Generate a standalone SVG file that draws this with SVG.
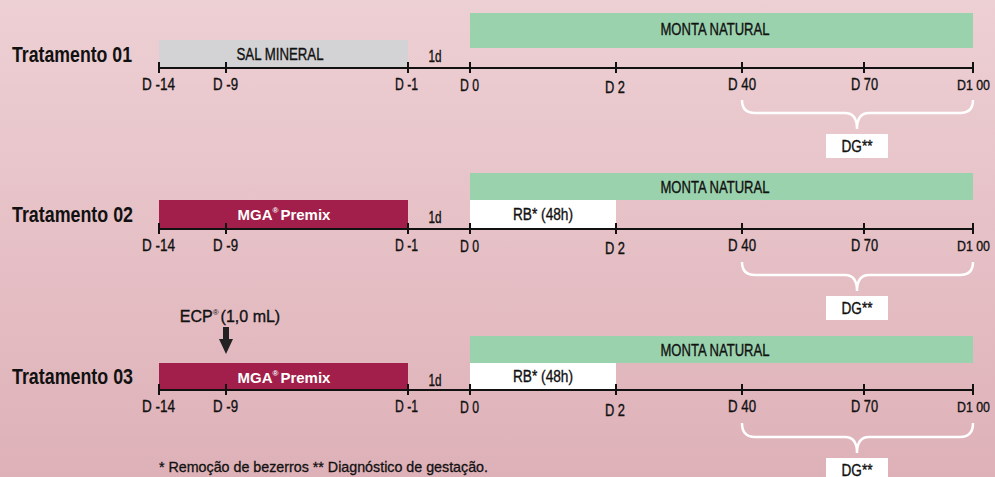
<svg xmlns="http://www.w3.org/2000/svg" width="995" height="477" viewBox="0 0 995 477">
<defs>
<linearGradient id="bg" x1="0" y1="0" x2="0" y2="1">
<stop offset="0" stop-color="#edd0d4"/>
<stop offset="1" stop-color="#deb1b8"/>
</linearGradient>
</defs>
<style>
text{font-family:"Liberation Sans",Arial,sans-serif;fill:#111}
.row{font-size:22px;font-weight:bold}
.tk,.lb{font-size:16px;text-anchor:middle;stroke:#111;stroke-width:0.35}
.end{font-size:14px;text-anchor:end}
.wb{font-size:15px;font-weight:bold;fill:#fff;text-anchor:middle}
.axis{stroke:#111;stroke-width:2;fill:none}
.brace{stroke:#fff;stroke-width:2.5;fill:none}
.green{fill:#9bd2ae}
.gray{fill:#d3d3d5}
.mga{fill:#a11f4a}
.white{fill:#fff}
</style>
<rect width="995" height="477" fill="url(#bg)"/>

<g id="tratamento01">
<text class="row" x="12" y="62" textLength="120" lengthAdjust="spacingAndGlyphs">Tratamento 01</text>
<rect class="green" x="470" y="13" width="503" height="35"/>
<text class="lb" x="715" y="35" textLength="109" lengthAdjust="spacingAndGlyphs">MONTA NATURAL</text>
<rect class="gray" x="159" y="40" width="249" height="27"/>
<text class="lb" x="280" y="60" textLength="87" lengthAdjust="spacingAndGlyphs">SAL MINERAL</text>
<text class="lb" x="435" y="62" textLength="13" lengthAdjust="spacingAndGlyphs">1d</text>
<path class="axis" d="M159,68H973M159,62v11M226,62v11M408,62v11M470,62v11M616,62v11M742,62v11M864,62v11M973,62v11"/>
<text class="tk" x="158.5" y="90" textLength="33" lengthAdjust="spacingAndGlyphs">D -14</text>
<text class="tk" x="225.5" y="90" textLength="25" lengthAdjust="spacingAndGlyphs">D -9</text>
<text class="tk" x="406.5" y="90" textLength="23" lengthAdjust="spacingAndGlyphs">D -1</text>
<text class="tk" x="469.5" y="91" textLength="19" lengthAdjust="spacingAndGlyphs">D 0</text>
<text class="tk" x="615" y="93" textLength="20" lengthAdjust="spacingAndGlyphs">D 2</text>
<text class="tk" x="742" y="90" textLength="28" lengthAdjust="spacingAndGlyphs">D 40</text>
<text class="tk" x="864.5" y="90" textLength="27" lengthAdjust="spacingAndGlyphs">D 70</text>
<text class="tk end" x="990" y="90" textLength="33" lengthAdjust="spacingAndGlyphs">D1 00</text>
<path class="brace" d="M742,100Q742,113 755,113L845,113Q857,113 857,129Q857,113 869,113L960,113Q973,113 973,100"/>
<rect class="white" x="826" y="134" width="62" height="24"/>
<text class="lb" x="857" y="152" textLength="31" lengthAdjust="spacingAndGlyphs">DG**</text>
</g>

<g id="tratamento02">
<text class="row" x="12" y="222" textLength="121" lengthAdjust="spacingAndGlyphs">Tratamento 02</text>
<rect class="green" x="470" y="173" width="503" height="27"/>
<text class="lb" x="715" y="193" textLength="109" lengthAdjust="spacingAndGlyphs">MONTA NATURAL</text>
<rect class="white" x="470" y="200" width="146" height="28"/>
<text class="lb" x="543" y="220" textLength="60" lengthAdjust="spacingAndGlyphs">RB* (48h)</text>
<rect class="mga" x="159" y="200" width="249" height="28"/>
<text class="wb" x="284" y="220"><tspan>MGA</tspan><tspan font-size="8" dy="-7">®</tspan><tspan dy="7" dx="2">Premix</tspan></text>
<text class="lb" x="435" y="223" textLength="13" lengthAdjust="spacingAndGlyphs">1d</text>
<path class="axis" d="M159,229H973M159,223v11M226,223v11M408,223v11M470,223v11M616,223v11M742,223v11M864,223v11M973,223v11"/>
<text class="tk" x="158.5" y="251" textLength="33" lengthAdjust="spacingAndGlyphs">D -14</text>
<text class="tk" x="225.5" y="251" textLength="25" lengthAdjust="spacingAndGlyphs">D -9</text>
<text class="tk" x="406.5" y="251" textLength="23" lengthAdjust="spacingAndGlyphs">D -1</text>
<text class="tk" x="469.5" y="252" textLength="19" lengthAdjust="spacingAndGlyphs">D 0</text>
<text class="tk" x="615" y="254" textLength="20" lengthAdjust="spacingAndGlyphs">D 2</text>
<text class="tk" x="742" y="251" textLength="28" lengthAdjust="spacingAndGlyphs">D 40</text>
<text class="tk" x="864.5" y="251" textLength="27" lengthAdjust="spacingAndGlyphs">D 70</text>
<text class="tk end" x="990" y="251" textLength="33" lengthAdjust="spacingAndGlyphs">D1 00</text>
<path class="brace" d="M742,262Q742,275 755,275L845,275Q857,275 857,291Q857,275 869,275L960,275Q973,275 973,262"/>
<rect class="white" x="826" y="296" width="62" height="24"/>
<text class="lb" x="857" y="314" textLength="31" lengthAdjust="spacingAndGlyphs">DG**</text>
</g>

<g id="ecp">
<text class="lb" x="230" y="322" font-size="15"><tspan>ECP</tspan><tspan font-size="8" dy="-7" stroke-width="0">®</tspan><tspan dy="7" dx="2">(1,0 mL)</tspan></text>
<path d="M223,327H229V339H233L226,354L219,339H223Z" fill="#222"/>
</g>

<g id="tratamento03">
<text class="row" x="12" y="384" textLength="121" lengthAdjust="spacingAndGlyphs">Tratamento 03</text>
<rect class="green" x="470" y="336" width="503" height="27"/>
<text class="lb" x="715" y="356" textLength="109" lengthAdjust="spacingAndGlyphs">MONTA NATURAL</text>
<rect class="white" x="470" y="363" width="146" height="27"/>
<text class="lb" x="543" y="382" textLength="60" lengthAdjust="spacingAndGlyphs">RB* (48h)</text>
<rect class="mga" x="159" y="363" width="249" height="27"/>
<text class="wb" x="284" y="383"><tspan>MGA</tspan><tspan font-size="8" dy="-7">®</tspan><tspan dy="7" dx="2">Premix</tspan></text>
<text class="lb" x="435" y="386" textLength="13" lengthAdjust="spacingAndGlyphs">1d</text>
<path class="axis" d="M159,390H973M159,384v11M226,384v11M408,384v11M470,384v11M616,384v11M742,384v11M864,384v11M973,384v11"/>
<text class="tk" x="158.5" y="412" textLength="33" lengthAdjust="spacingAndGlyphs">D -14</text>
<text class="tk" x="225.5" y="412" textLength="25" lengthAdjust="spacingAndGlyphs">D -9</text>
<text class="tk" x="406.5" y="412" textLength="23" lengthAdjust="spacingAndGlyphs">D -1</text>
<text class="tk" x="469.5" y="413" textLength="19" lengthAdjust="spacingAndGlyphs">D 0</text>
<text class="tk" x="615" y="416" textLength="20" lengthAdjust="spacingAndGlyphs">D 2</text>
<text class="tk" x="742" y="412" textLength="28" lengthAdjust="spacingAndGlyphs">D 40</text>
<text class="tk" x="864.5" y="412" textLength="27" lengthAdjust="spacingAndGlyphs">D 70</text>
<text class="tk end" x="990" y="412" textLength="33" lengthAdjust="spacingAndGlyphs">D1 00</text>
<path class="brace" d="M742,423Q742,437 755,437L845,437Q857,437 857,453Q857,437 869,437L960,437Q973,437 973,423"/>
<rect class="white" x="826" y="458" width="62" height="24"/>
<text class="lb" x="857" y="476" textLength="31" lengthAdjust="spacingAndGlyphs">DG**</text>
</g>

<g id="footnote">
<text x="159" y="472" font-size="15" stroke="#111" stroke-width="0.3" textLength="329" lengthAdjust="spacingAndGlyphs">* Remoção de bezerros ** Diagnóstico de gestação.</text>
</g>
</svg>
